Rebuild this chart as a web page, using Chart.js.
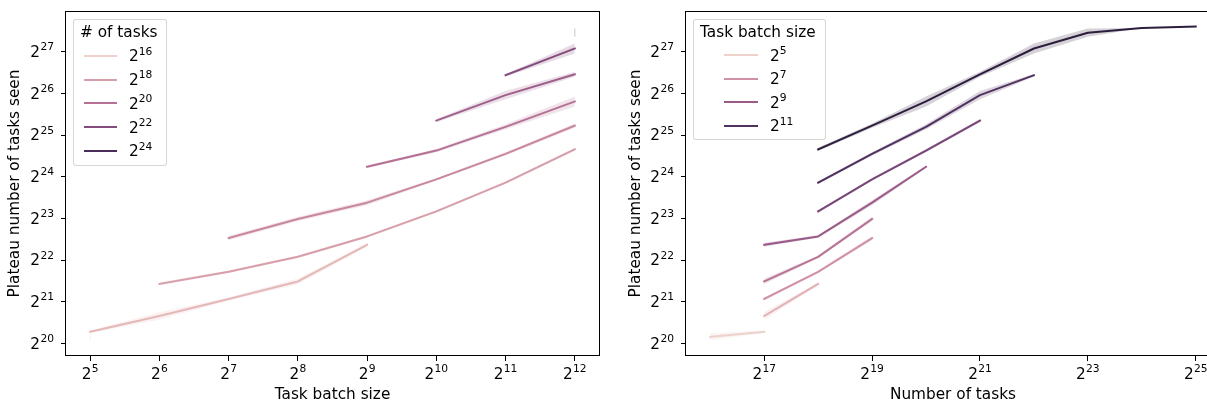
<!DOCTYPE html>
<html>
<head>
<meta charset="utf-8">
<script src="https://cdn.jsdelivr.net/npm/chart.js@4.4.1/dist/chart.umd.min.js"></script>
<style>
html,body{margin:0;padding:0;background:#fff;overflow:hidden;width:1207px;height:404px;}
#wrap{position:relative;width:1207px;height:404px;overflow:hidden;background:#fff;}
.pane{position:absolute;top:0;}
canvas{display:block;}
.lgbox{position:absolute;box-sizing:border-box;border:1px solid rgba(204,204,204,0.8);border-radius:3px;background:rgba(255,255,255,0.8);}
.lgtext{position:absolute;font-family:"DejaVu Sans",sans-serif;font-size:15.3px;line-height:15px;color:#000;white-space:nowrap;}
.lgtext .sup{font-size:10.7px;position:relative;top:-6.6px;}
.lgline{position:absolute;height:2px;}
</style>
</head>
<body>
<div id="wrap">
  <div class="pane" style="left:0;width:607px;height:404px;"><canvas id="c1" width="607" height="404"></canvas></div>
  <div class="pane" style="left:607px;width:620px;height:404px;"><canvas id="c2" width="620" height="404"></canvas></div>
</div>
<script>
// ---------------- data (exponents of 2) ----------------
const batchExp = [5, 6, 7, 8, 9, 10, 11, 12];          // task batch size = 2^b
const tasksExp = [16, 17, 18, 19, 20, 21, 22, 23, 24, 25]; // number of tasks = 2^n

// plateau number of tasks seen (log2), one array per number of tasks, indexed by batchExp
const tasks16 = [20.16, null, null, null, null, null, null, null];
const tasks17 = [20.28, 20.66, 21.07, 21.49, 22.37, null, null, null];
const tasks18 = [null, 21.43, 21.72, 22.08, 22.57, 23.17, 23.86, 24.66];
const tasks19 = [null, null, 22.53, 22.99, 23.38, 23.94, 24.55, 25.23];
const tasks20 = [null, null, null, null, 24.24, 24.63, 25.20, 25.81];
const tasks21 = [null, null, null, null, null, 25.35, 25.96, 26.46];
const tasks22 = [null, null, null, null, null, null, 26.44, 27.08];
const tasks23 = [null, null, null, null, null, null, null, 27.46];
const tasks24 = [null, null, null, null, null, null, null, 27.57];
const tasks25 = [null, null, null, null, null, null, null, 27.61];

// confidence band half-widths (log2 units)
const ci16 = [0.09, null, null, null, null, null, null, null];
const ci17 = [0.03, 0.09, 0.04, 0.07, 0.05, null, null, null];
const ci18 = [null, 0.04, 0.03, 0.03, 0.03, 0.03, 0.03, 0.04];
const ci19 = [null, null, 0.05, 0.05, 0.06, 0.03, 0.04, 0.05];
const ci20 = [null, null, null, null, 0.03, 0.04, 0.06, 0.12];
const ci21 = [null, null, null, null, null, 0.04, 0.10, 0.06];
const ci22 = [null, null, null, null, null, null, 0.03, 0.12];
const ci23 = [null, null, null, null, null, null, null, 0.10];
const ci24 = [null, null, null, null, null, null, null, 0.0];
const ci25 = [null, null, null, null, null, null, null, 0.0];

// tick values and legend entries
const yTicks = [20, 21, 22, 23, 24, 25, 26, 27];
const xTicksLeft = [5, 6, 7, 8, 9, 10, 11, 12];
const xTicksRight = [17, 19, 21, 23, 25];
const legendTasks = [16, 18, 20, 22, 24];
const legendBatch = [5, 7, 9, 11];

const tasksSeries = [tasks16, tasks17, tasks18, tasks19, tasks20, tasks21, tasks22, tasks23, tasks24, tasks25];
const ciSeries = [ci16, ci17, ci18, ci19, ci20, ci21, ci22, ci23, ci24, ci25];

// ---------------- styling helpers ----------------
function cubehelix(x) {
  const gamma = 1, start = 0, rot = 0.4, hue = 0.8;
  const xg = Math.pow(x, gamma);
  const a = hue * xg * (1 - xg) / 2;
  const phi = 2 * Math.PI * (start / 3 + rot * x);
  const f = (p0, p1) => Math.min(1, Math.max(0, xg + a * (p0 * Math.cos(phi) + p1 * Math.sin(phi))));
  return [f(-0.14861, 1.78277), f(-0.29227, -0.90649), f(1.97294, 0)].map(v => Math.round(v * 255));
}
function hueColor(t, alpha) {
  const c = cubehelix(0.85 - 0.7 * t);
  return alpha == null ? `rgb(${c[0]},${c[1]},${c[2]})` : `rgba(${c[0]},${c[1]},${c[2]},${alpha})`;
}

function buildDatasets(list) {
  const ds = [];
  list.forEach(s => {
    const pts = [], lo = [], hi = [];
    s.xs.forEach((x, k) => {
      const v = s.values[k];
      if (v == null) return;
      const c = s.ci[k] || 0;
      pts.push({x, y: v}); lo.push({x, y: v - c}); hi.push({x, y: v + c});
    });
    if (pts.length === 0) return;
    const col = hueColor(s.t), band = hueColor(s.t, 0.2);
    const base = {pointRadius: 0, pointHoverRadius: 0, tension: 0};
    if (pts.length > 1) {
      ds.push(Object.assign({data: lo, borderWidth: 0, borderColor: 'rgba(0,0,0,0)', fill: false}, base));
      ds.push(Object.assign({data: hi, borderWidth: 0, borderColor: 'rgba(0,0,0,0)', backgroundColor: band, fill: '-1'}, base));
      ds.push(Object.assign({data: pts, borderWidth: 2, borderColor: col, fill: false,
        borderCapStyle: 'square', borderJoinStyle: 'round'}, base));
    } else if (hi[0].y - lo[0].y > 0) {
      ds.push(Object.assign({data: [lo[0], hi[0]], borderWidth: 1.5, borderColor: band, fill: false}, base));
    }
  });
  ds.forEach((d, i) => { d.order = ds.length - i; });
  return ds;
}

const FAMILY = '"DejaVu Sans", sans-serif';
const FONT = {family: FAMILY, size: 15.3};
const framePlugin = {
  id: 'frame',
  afterDatasetsDraw(chart) {
    const a = chart.chartArea, ctx = chart.ctx;
    ctx.save();
    ctx.strokeStyle = '#000';
    ctx.lineWidth = 1;
    ctx.strokeRect(Math.round(a.left) - 0.5, Math.round(a.top) + 0.5, Math.round(a.right - a.left) + 1, Math.round(a.bottom - a.top) - 1);
    ctx.restore();
  }
};
const bgPlugin = {
  id: 'bg',
  beforeDraw(chart) {
    const ctx = chart.ctx;
    ctx.save(); ctx.fillStyle = '#fff'; ctx.fillRect(0, 0, chart.width, chart.height); ctx.restore();
  }
};
// tick labels "2" with a raised exponent, placed at the scale's own tick positions
const powTickPlugin = {
  id: 'powTicks',
  afterDraw(chart) {
    const ctx = chart.ctx, a = chart.chartArea;
    ctx.save();
    ctx.fillStyle = '#000';
    ctx.textBaseline = 'alphabetic';
    ctx.textAlign = 'left';
    const baseFont = '15.3px ' + FAMILY, expFont = '10.7px ' + FAMILY;
    const measure = v => {
      const e = String(Math.round(v));
      ctx.font = baseFont; const wb = ctx.measureText('2').width;
      ctx.font = expFont; const we = ctx.measureText(e).width;
      return {e, wb, we};
    };
    const draw = (x, yBase, m) => {
      ctx.font = baseFont; ctx.fillText('2', x, yBase);
      ctx.font = expFont; ctx.fillText(m.e, x + m.wb + 0.3, yBase - 6.6);
    };
    const xs = chart.scales.x, ys = chart.scales.y;
    xs.ticks.forEach(t => {
      const px = xs.getPixelForValue(t.value);
      const m = measure(t.value);
      draw(px - (m.wb + m.we + 0.3) / 2, a.bottom + 22.5, m);
    });
    ys.ticks.forEach(t => {
      const py = ys.getPixelForValue(t.value);
      const m = measure(t.value);
      draw(a.left - 12 - (m.wb + m.we + 0.3), py + 5, m);
    });
    ctx.restore();
  }
};

function makeChart(canvasId, datasets, opt) {
  return new Chart(document.getElementById(canvasId), {
    type: 'line',
    data: {datasets},
    plugins: [bgPlugin, framePlugin, powTickPlugin],
    options: {
      responsive: false,
      animation: false,
      devicePixelRatio: 1,
      layout: {padding: {left: 0, right: opt.padRight, top: 11, bottom: 0}},
      plugins: {legend: {display: false}, tooltip: {enabled: false}},
      elements: {line: {tension: 0}},
      scales: {
        x: {
          type: 'linear', min: opt.xMin, max: opt.xMax,
          afterBuildTicks: s => { s.ticks = opt.xTicks.map(v => ({value: v})); },
          afterFit: s => { s.height = 48; },
          ticks: {display: false, autoSkip: false},
          grid: {drawOnChartArea: false, drawTicks: true, tickLength: 5, color: '#000', tickColor: '#000', tickWidth: 1},
          border: {display: false},
          title: {display: true, text: opt.xTitle, font: FONT, color: '#000', padding: {top: 0, bottom: 0}}
        },
        y: {
          type: 'linear', min: 19.70, max: 27.98,
          afterBuildTicks: s => { s.ticks = yTicks.map(v => ({value: v})); },
          afterFit: s => { s.width = opt.yWidth; },
          ticks: {display: false, autoSkip: false},
          grid: {drawOnChartArea: false, drawTicks: true, tickLength: 5, color: '#000', tickColor: '#000', tickWidth: 1},
          border: {display: false},
          title: {display: true, text: 'Plateau number of tasks seen', font: FONT, color: '#000', padding: {top: opt.yTitlePad, bottom: 0}}
        }
      }
    }
  });
}

// left: lines per number of tasks across batch size
const leftSeries = tasksSeries.map((arr, i) => ({
  xs: batchExp, values: arr, ci: ciSeries[i],
  t: (tasksExp[i] - tasksExp[0]) / (tasksExp[tasksExp.length - 1] - tasksExp[0])
}));
// right: lines per batch size across number of tasks
const rightSeries = batchExp.map((b, j) => ({
  xs: tasksExp, values: tasksSeries.map(a => a[j]), ci: ciSeries.map(a => a[j]),
  t: (b - batchExp[0]) / (batchExp[batchExp.length - 1] - batchExp[0])
}));

makeChart('c1', buildDatasets(leftSeries), {
  xMin: 4.65, xMax: 12.35, xTicks: xTicksLeft, xTitle: 'Task batch size',
  padRight: 8, yWidth: 66, yTitlePad: 6.2
});
makeChart('c2', buildDatasets(rightSeries), {
  xMin: 15.55, xMax: 25.45, xTicks: xTicksRight, xTitle: 'Number of tasks',
  padRight: 7, yWidth: 79, yTitlePad: 20
});

// ---------------- legends (HTML overlay) ----------------
const wrap = document.getElementById('wrap');
function addLegend(box, title, entries, tFor, layout) {
  const b = document.createElement('div');
  b.className = 'lgbox';
  Object.assign(b.style, {left: box[0] + 'px', top: box[1] + 'px', width: box[2] + 'px', height: box[3] + 'px'});
  wrap.appendChild(b);
  const tt = document.createElement('div');
  tt.className = 'lgtext';
  tt.textContent = title;
  Object.assign(tt.style, {left: layout.titleX + 'px', top: (layout.titleY - 7.5) + 'px'});
  wrap.appendChild(tt);
  entries.forEach((e, i) => {
    const y = layout.y0 + i * layout.dy;
    const ln = document.createElement('div');
    ln.className = 'lgline';
    Object.assign(ln.style, {left: layout.lx0 + 'px', width: (layout.lx1 - layout.lx0) + 'px', top: (y - 1) + 'px', background: hueColor(tFor(e))});
    wrap.appendChild(ln);
    const tx = document.createElement('div');
    tx.className = 'lgtext';
    tx.innerHTML = '2<span class="sup">' + e + '</span>';
    Object.assign(tx.style, {left: layout.textX + 'px', top: (y - 6.5) + 'px'});
    wrap.appendChild(tx);
  });
}
addLegend([73, 19, 94, 147], '# of tasks', legendTasks,
  n => (n - tasksExp[0]) / (tasksExp[tasksExp.length - 1] - tasksExp[0]),
  {titleX: 80, titleY: 32, y0: 55.7, dy: 23.8, lx0: 84, lx1: 117, textX: 129});
addLegend([693, 19, 133, 121], 'Task batch size', legendBatch,
  b => (b - batchExp[0]) / (batchExp[batchExp.length - 1] - batchExp[0]),
  {titleX: 700, titleY: 32, y0: 55.3, dy: 23.5, lx0: 724, lx1: 758, textX: 770});
</script>
</body>
</html>
